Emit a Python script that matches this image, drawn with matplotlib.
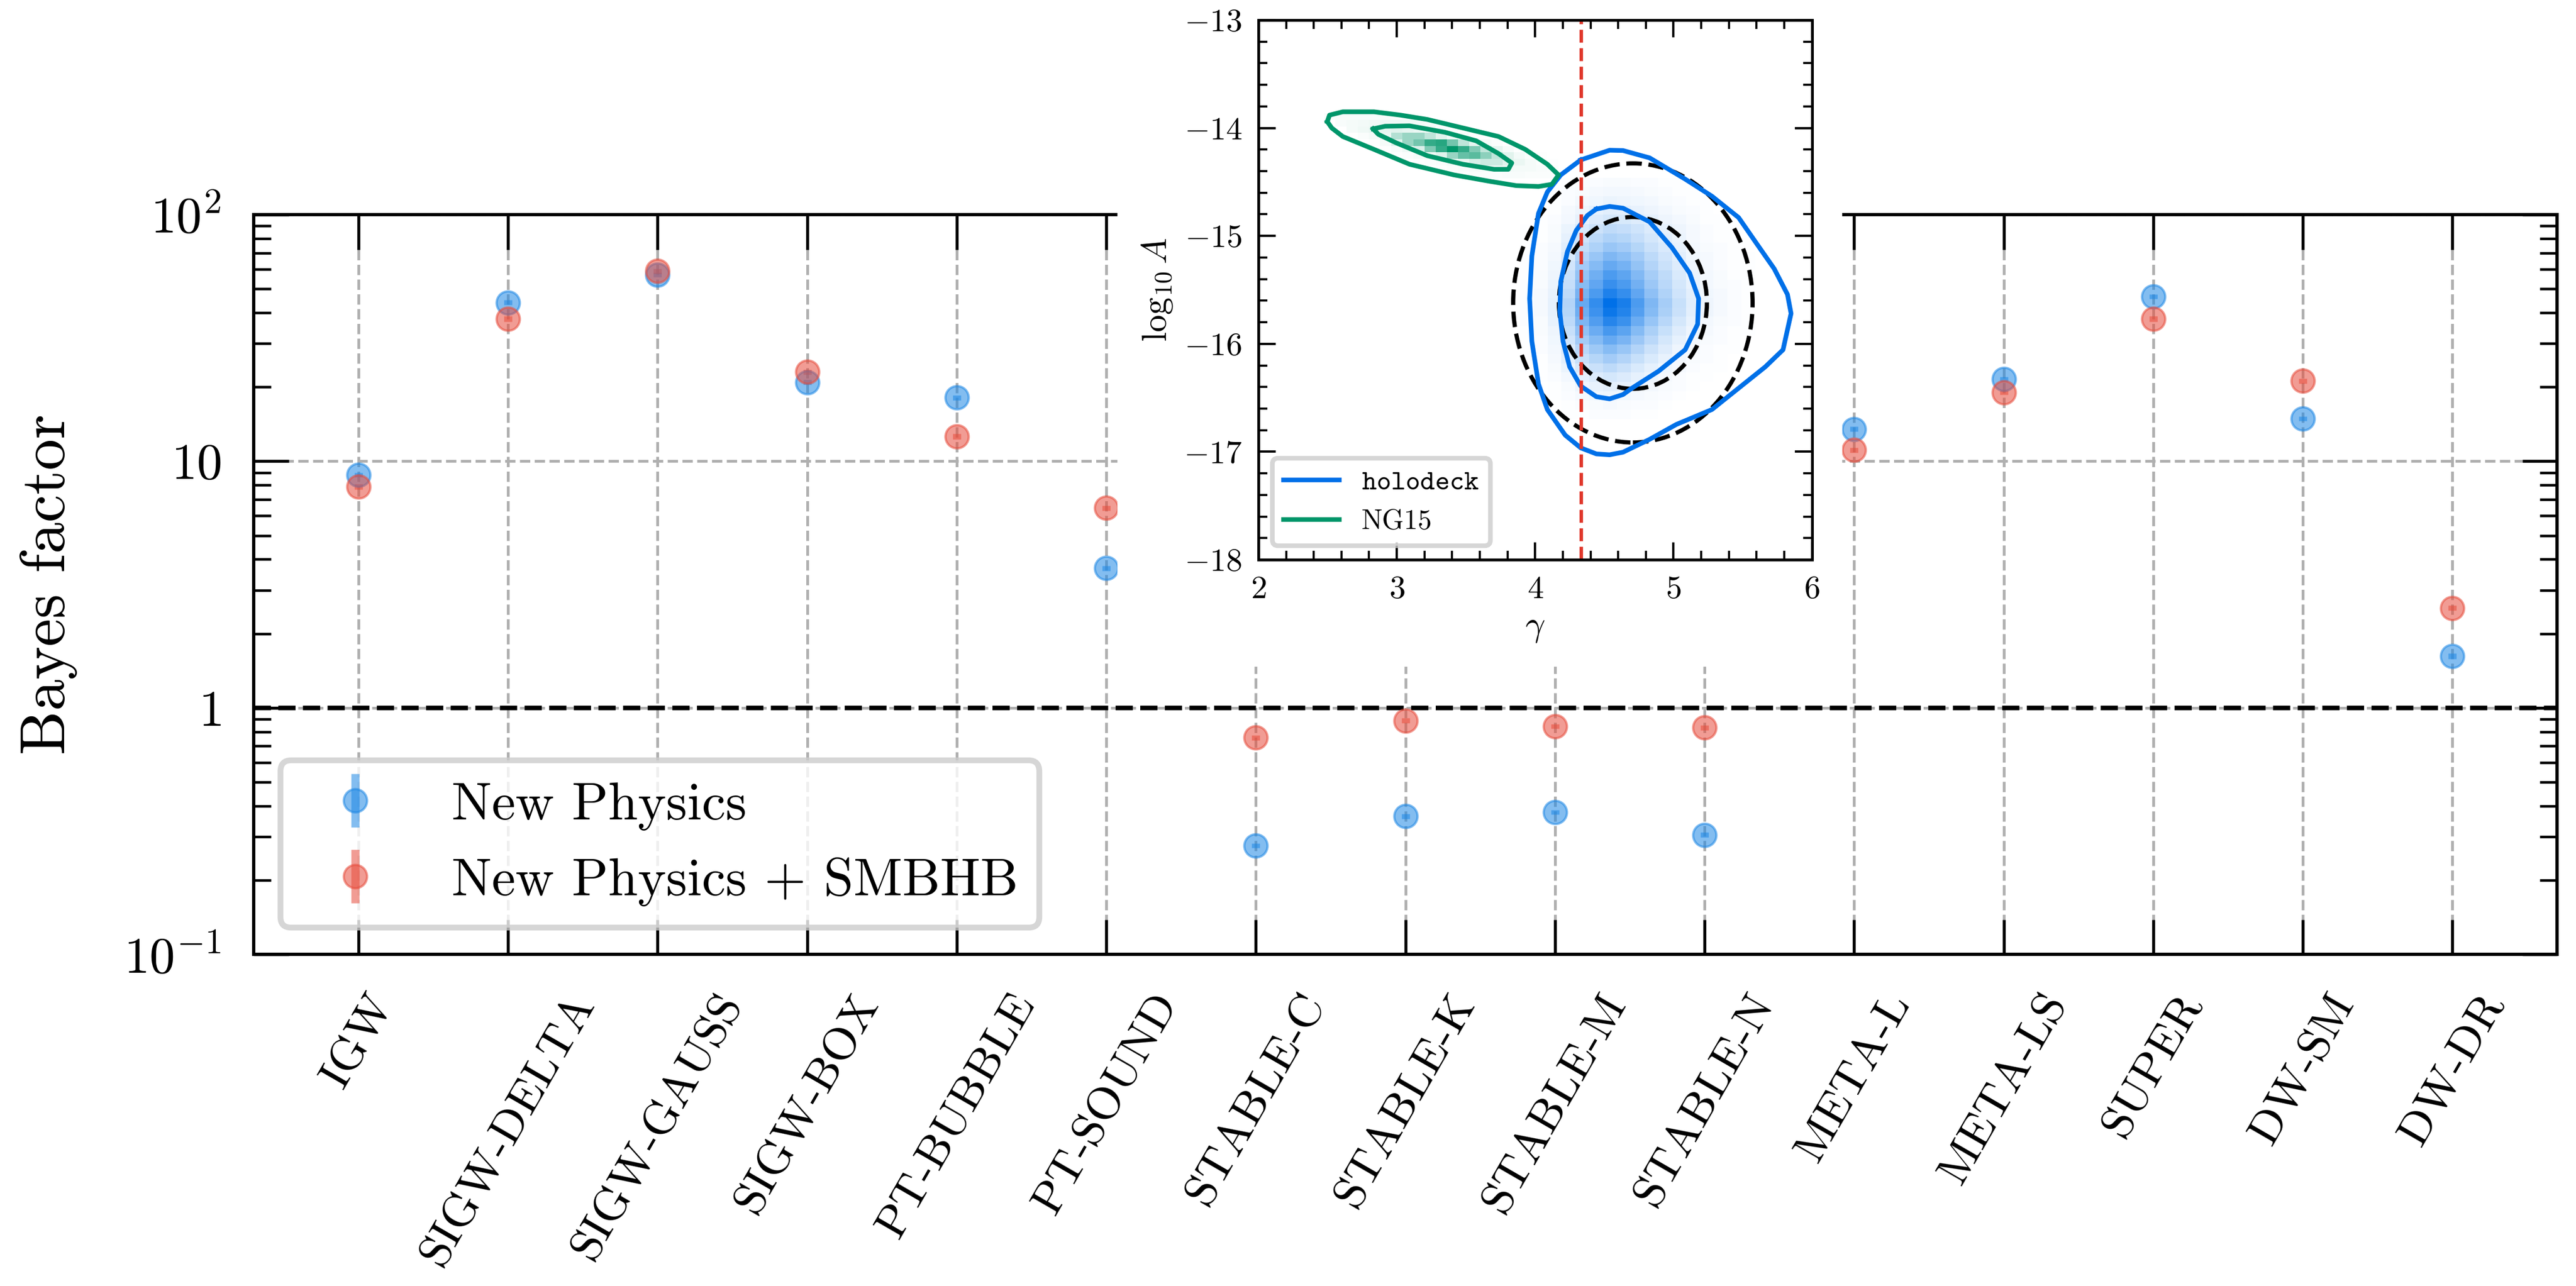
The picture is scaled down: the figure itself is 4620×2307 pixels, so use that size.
import numpy as np
import matplotlib.pyplot as plt
from matplotlib.colors import LinearSegmentedColormap
from matplotlib.patches import Ellipse, Rectangle
from matplotlib.ticker import LogLocator, MultipleLocator, NullFormatter

plt.rcParams.update({
    'font.family': ['cmr10', 'DejaVu Serif'],
    'mathtext.fontset': 'cm',
    'axes.formatter.use_mathtext': True,
    'axes.unicode_minus': True,
})

# ---- main panel: Bayes factors per model ----
models = ['IGW', 'SIGW-DELTA', 'SIGW-GAUSS', 'SIGW-BOX', 'PT-BUBBLE', 'PT-SOUND',
          'STABLE-C', 'STABLE-K', 'STABLE-M', 'STABLE-N', 'META-L', 'META-LS',
          'SUPER', 'DW-SM', 'DW-DR']
bf_np = [8.8, 44.0, 57.0, 20.9, 18.1, 3.68, 0.276, 0.363, 0.378, 0.305,
         13.5, 21.5, 46.5, 14.9, 1.62]
bf_np_err = [0.2, 1.0, 1.3, 0.5, 0.4, 0.08, 0.006, 0.008, 0.008, 0.007,
             0.3, 0.5, 1.0, 0.3, 0.04]
bf_smbhb = [7.9, 37.8, 59.0, 23.0, 12.6, 6.47, 0.757, 0.887, 0.841, 0.83,
            11.1, 19.0, 37.8, 21.2, 2.54]
bf_smbhb_err = [0.2, 0.9, 1.4, 0.5, 0.3, 0.15, 0.017, 0.02, 0.019, 0.019,
                0.25, 0.4, 0.9, 0.5, 0.06]
ytick_vals = [0.1, 1, 10, 100]
ytick_labels = [r'$10^{-1}$', r'$1$', r'$10$', r'$10^2$']

# ---- inset: holodeck vs NG15 in (gamma, log10 A) ----
gamma_ref = 4.333  # 13/3

holo_gamma_edges = [3.89, 3.99, 4.09, 4.19, 4.29, 4.39, 4.49, 4.59, 4.69, 4.79,
                    4.89, 4.99, 5.09, 5.19, 5.29, 5.39, 5.49, 5.59]
holo_loga_edges = [-14.46, -14.546, -14.632, -14.718, -14.804, -14.89, -14.976,
                   -15.062, -15.148, -15.234, -15.32, -15.406, -15.492, -15.578,
                   -15.664, -15.75, -15.836, -15.922, -16.008, -16.094, -16.18,
                   -16.266, -16.352, -16.438, -16.524, -16.61, -16.696]
holo_hist = [
    [0, 0, 0, 1, 2, 2, 3, 3, 2, 2, 1, 1, 0, 0, 0, 0, 0],
    [0, 0, 1, 2, 3, 4, 5, 5, 4, 3, 2, 1, 1, 0, 0, 0, 0],
    [0, 0, 1, 2, 5, 6, 8, 7, 6, 5, 3, 2, 1, 1, 0, 0, 0],
    [0, 0, 1, 4, 7, 10, 12, 11, 9, 7, 5, 3, 2, 1, 0, 0, 0],
    [0, 1, 2, 5, 10, 14, 17, 16, 13, 10, 7, 5, 3, 1, 1, 0, 0],
    [1, 1, 3, 8, 15, 20, 25, 23, 19, 14, 10, 7, 4, 2, 1, 1, 0],
    [1, 1, 3, 10, 19, 26, 32, 29, 23, 17, 12, 8, 4, 2, 1, 1, 0],
    [1, 2, 4, 12, 24, 32, 40, 36, 29, 21, 15, 9, 5, 3, 2, 1, 0],
    [1, 2, 5, 15, 30, 40, 50, 45, 36, 26, 18, 11, 6, 4, 2, 1, 1],
    [1, 2, 6, 18, 36, 48, 60, 54, 42, 30, 21, 13, 7, 4, 2, 1, 1],
    [1, 3, 7, 21, 42, 56, 70, 63, 49, 35, 25, 15, 8, 5, 3, 1, 1],
    [2, 3, 8, 23, 47, 62, 78, 70, 55, 39, 27, 17, 9, 5, 3, 2, 1],
    [2, 4, 9, 26, 53, 70, 88, 79, 62, 44, 31, 19, 11, 6, 4, 2, 1],
    [2, 4, 10, 30, 60, 80, 100, 90, 70, 50, 35, 22, 12, 7, 4, 2, 1],
    [2, 4, 10, 29, 57, 76, 95, 86, 67, 48, 33, 21, 11, 7, 4, 2, 1],
    [2, 3, 9, 26, 51, 68, 85, 77, 58, 41, 28, 17, 9, 5, 3, 2, 1],
    [1, 3, 7, 22, 43, 58, 72, 64, 48, 33, 22, 13, 7, 4, 2, 1, 1],
    [1, 2, 6, 18, 36, 48, 60, 52, 39, 27, 17, 10, 5, 3, 2, 1, 0],
    [1, 2, 5, 14, 28, 38, 47, 40, 30, 20, 13, 7, 4, 2, 1, 1, 0],
    [1, 1, 4, 11, 22, 29, 36, 30, 22, 15, 9, 5, 3, 2, 1, 0, 0],
    [1, 1, 3, 8, 16, 21, 26, 21, 15, 10, 6, 4, 2, 1, 1, 0, 0],
    [0, 1, 2, 5, 10, 14, 17, 14, 10, 7, 4, 2, 1, 1, 0, 0, 0],
    [0, 0, 1, 3, 7, 9, 11, 9, 7, 5, 3, 2, 1, 0, 0, 0, 0],
    [0, 0, 1, 2, 4, 6, 7, 6, 4, 3, 2, 1, 0, 0, 0, 0, 0],
    [0, 0, 0, 1, 2, 3, 4, 3, 2, 2, 1, 0, 0, 0, 0, 0, 0],
    [0, 0, 0, 1, 1, 2, 2, 2, 1, 1, 0, 0, 0, 0, 0, 0, 0],
]

ng15_gamma_edges = [2.475, 2.556, 2.636, 2.717, 2.797, 2.878, 2.959, 3.039, 3.12,
                    3.2, 3.281, 3.362, 3.442, 3.523, 3.603, 3.684, 3.765, 3.845,
                    3.926, 4.006, 4.087, 4.168]
ng15_loga_edges = [-13.864, -13.924, -13.985, -14.045, -14.105, -14.166, -14.226,
                   -14.286, -14.346, -14.407, -14.467]
ng15_hist = [
    [2, 3, 3, 3, 3, 3, 2, 2, 1, 0, 0, 0, 0, 0, 0, 0, 0, 0, 0, 0, 0],
    [0, 3, 4, 5, 6, 7, 7, 6, 5, 4, 2, 1, 0, 0, 0, 0, 0, 0, 0, 0, 0],
    [0, 0, 4, 6, 8, 10, 12, 10, 8, 6, 3, 2, 1, 0, 0, 0, 0, 0, 0, 0, 0],
    [0, 0, 0, 2, 4, 8, 30, 40, 40, 25, 12, 6, 3, 1, 0, 0, 0, 0, 0, 0, 0],
    [0, 0, 0, 0, 1, 4, 12, 40, 55, 80, 85, 55, 25, 10, 4, 2, 0, 0, 0, 0, 0],
    [0, 0, 0, 0, 0, 1, 3, 6, 15, 50, 80, 100, 80, 50, 25, 10, 4, 1, 0, 0, 0],
    [0, 0, 0, 0, 0, 0, 1, 2, 4, 6, 12, 40, 60, 65, 45, 25, 12, 5, 2, 1, 0],
    [0, 0, 0, 0, 0, 0, 0, 0, 1, 2, 3, 5, 8, 15, 20, 20, 12, 8, 4, 2, 1],
    [0, 0, 0, 0, 0, 0, 0, 0, 0, 0, 1, 2, 3, 4, 4, 5, 5, 4, 4, 3, 2],
    [0, 0, 0, 0, 0, 0, 0, 0, 0, 0, 0, 0, 1, 2, 2, 2, 3, 3, 2, 2, 2],
]

# contours (gamma, log10 A), closed curves
holo_outer_g = [4.329, 4.538, 4.635, 4.827, 5.084, 5.277, 5.470, 5.598, 5.727, 5.823,
                5.849, 5.791, 5.663, 5.470, 5.277, 5.020, 4.827, 4.635, 4.538, 4.442,
                4.329, 4.217, 4.088, 4.024, 3.976, 3.960, 3.976, 4.024, 4.088, 4.185, 4.329]
holo_outer_a = [-14.296, -14.206, -14.209, -14.277, -14.474, -14.632, -14.830, -15.067,
                -15.304, -15.542, -15.719, -16.055, -16.213, -16.411, -16.609, -16.747,
                -16.885, -17.004, -17.028, -17.020, -16.964, -16.846, -16.609, -16.372,
                -15.976, -15.581, -15.186, -14.791, -14.593, -14.435, -14.296]
holo_inner_g = [4.442, 4.538, 4.635, 4.827, 4.988, 5.116, 5.181, 5.174, 5.084, 4.892,
                4.699, 4.635, 4.538, 4.442, 4.329, 4.249, 4.201, 4.178, 4.185, 4.233,
                4.297, 4.378, 4.442]
holo_inner_a = [-14.751, -14.727, -14.743, -14.870, -15.107, -15.344, -15.581, -15.818,
                -16.055, -16.253, -16.411, -16.470, -16.510, -16.490, -16.391, -16.213,
                -15.976, -15.700, -15.423, -15.146, -14.949, -14.810, -14.751]
ng15_outer_g = [2.498, 2.514, 2.610, 2.835, 3.028, 3.221, 3.478, 3.735, 3.928, 4.088,
                4.169, 4.121, 4.024, 3.863, 3.671, 3.414, 3.092, 2.835, 2.610, 2.530, 2.498]
ng15_outer_a = [-13.941, -13.881, -13.850, -13.850, -13.881, -13.921, -14.000, -14.079,
                -14.198, -14.336, -14.435, -14.522, -14.542, -14.534, -14.494, -14.435,
                -14.336, -14.198, -14.079, -14.000, -13.941]
ng15_inner_g = [2.829, 2.916, 3.092, 3.349, 3.574, 3.735, 3.831, 3.806, 3.703, 3.478,
                3.221, 2.996, 2.867, 2.829]
ng15_inner_a = [-14.008, -13.984, -13.980, -14.040, -14.119, -14.237, -14.324, -14.383,
                -14.383, -14.336, -14.257, -14.138, -14.059, -14.008]

# dashed reference ellipses: centre, full width in gamma, full height in log10 A
ell_center = (4.706, -15.621)
ell_widths = [1.070, 1.730]
ell_heights = [1.592, 2.586]

BLUE = '#1E88E5'
RED = '#E74C3C'
HOLO = '#0070E8'
NG15 = '#00966A'

fig = plt.figure(figsize=(15.4, 7.69), dpi=300)
ax = fig.add_axes([0.0985, 0.2579, 0.8942, 0.5752])
ax.set_zorder(0)

x = np.arange(len(models))
ax.errorbar(x, bf_np, yerr=bf_np_err, fmt='o', color=BLUE, ms=10,
            elinewidth=3.5, capsize=0, alpha=0.55, label='New Physics', zorder=3)
ax.errorbar(x, bf_smbhb, yerr=bf_smbhb_err, fmt='o', color=RED, ms=10,
            elinewidth=3.5, capsize=0, alpha=0.55, label='New Physics + SMBHB', zorder=3)
ax.axhline(1, color='k', ls='--', lw=2, zorder=2)

ax.set_yscale('log')
ax.set_ylim(0.1, 100)
ax.set_xlim(-0.7, 14.7)
ax.set_xticks(x)
ax.set_xticklabels(models, rotation=60, fontsize=20)
ax.set_yticks(ytick_vals)
ax.set_yticklabels(ytick_labels)
ax.yaxis.set_minor_locator(LogLocator(base=10, subs=np.arange(2, 10)))
ax.yaxis.set_minor_formatter(NullFormatter())
ax.tick_params(which='both', direction='in', top=True, right=True)
ax.tick_params(which='major', length=15, width=1.3, labelsize=22, pad=14)
ax.tick_params(axis='x', which='major', labelsize=20)
ax.tick_params(which='minor', length=7.5, width=1.1)
ax.tick_params(axis='x', which='minor', top=False, bottom=False)
for s in ax.spines.values():
    s.set_linewidth(1.4)
ax.grid(True, which='major', ls='--', color='#b0b0b0', lw=1.2)
ax.set_ylabel('Bayes factor', fontsize=27, labelpad=20)
leg = ax.legend(loc='lower left', fontsize=23)
leg.get_frame().set_linewidth(2.5)

# ---- inset ----
ins = fig.add_axes([0.4885, 0.5648, 0.2149, 0.4196])
ins.set_zorder(2)
holo_cmap = LinearSegmentedColormap.from_list('holo', ['white', HOLO])
ng15_cmap = LinearSegmentedColormap.from_list('ng15', ['white', NG15])
ins.pcolormesh(holo_gamma_edges, holo_loga_edges, np.array(holo_hist),
               cmap=holo_cmap, vmin=0, vmax=100, shading='flat')
ins.pcolormesh(ng15_gamma_edges, ng15_loga_edges, np.array(ng15_hist),
               cmap=ng15_cmap, vmin=0, vmax=100, shading='flat')
ins.plot(holo_outer_g, holo_outer_a, color=HOLO, lw=2, label=r'$\mathtt{holodeck}$')
ins.plot(holo_inner_g, holo_inner_a, color=HOLO, lw=2)
ins.plot(ng15_outer_g, ng15_outer_a, color=NG15, lw=2, label='NG15')
ins.plot(ng15_inner_g, ng15_inner_a, color=NG15, lw=2)
for w, h in zip(ell_widths, ell_heights):
    ins.add_patch(Ellipse(ell_center, w, h, fill=False, ls='--', lw=1.8, color='k'))
ins.axvline(gamma_ref, color='#E0382C', ls='--', lw=1.5)

ins.set_xlim(2, 6)
ins.set_ylim(-18, -13)
ins.xaxis.set_major_locator(MultipleLocator(1))
ins.xaxis.set_minor_locator(MultipleLocator(0.2))
ins.yaxis.set_major_locator(MultipleLocator(1))
ins.yaxis.set_minor_locator(MultipleLocator(0.2))
ins.tick_params(which='both', direction='in', top=True, right=True)
ins.tick_params(which='major', length=7.5, width=1.0, labelsize=14, pad=7)
ins.tick_params(which='minor', length=3.8, width=0.9)
for s in ins.spines.values():
    s.set_linewidth(1.2)
ins.set_xlabel(r'$\gamma$', fontsize=15)
ins.set_ylabel(r'$\log_{10} A$', fontsize=15)
ileg = ins.legend(loc='lower left', fontsize=12)
ileg.get_frame().set_linewidth(2)

# white backdrop behind the inset and its labels
fig.canvas.draw()
bb = ins.get_tightbbox(fig.canvas.get_renderer()).transformed(fig.transFigure.inverted())
px, py = 40 / 4620, 40 / 2307
fig.add_artist(Rectangle((bb.x0 - px, bb.y0 - py), bb.width + 2 * px, bb.height + 2 * py,
                         transform=fig.transFigure, facecolor='white',
                         edgecolor='none', zorder=1))

fig.savefig('out.png', dpi=300)
